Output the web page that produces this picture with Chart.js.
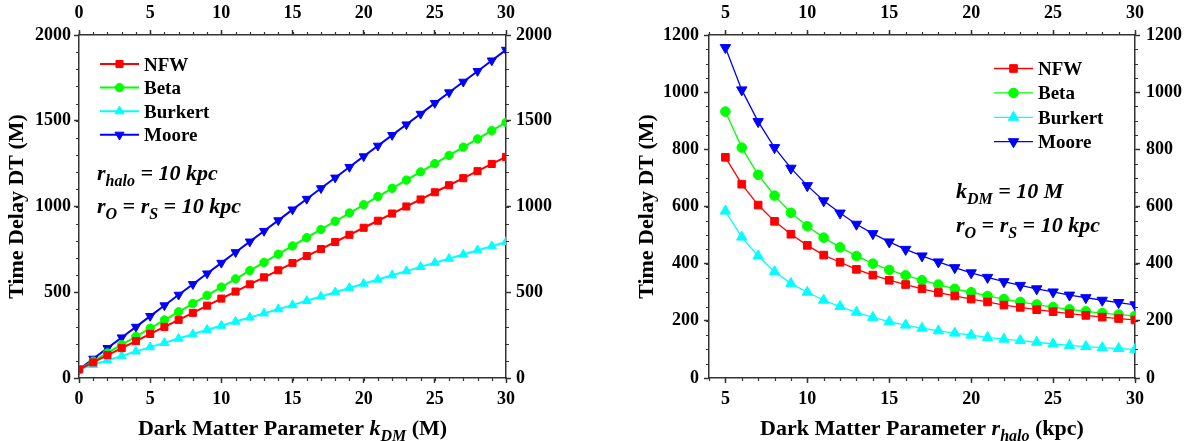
<!DOCTYPE html>
<html>
<head>
<meta charset="utf-8">
<script src="https://cdn.jsdelivr.net/npm/chart.js@4"></script>
<style>
    body { margin: 0; background: #fff; width: 1185px; height: 441px; overflow: hidden; position: relative; }
    .box { position: absolute; top: 0; height: 441px; }
    #box-left { left: 0; width: 600px; }
    #box-right { left: 630px; width: 555px; }
</style>
</head>
<body>
<div class="box" id="box-left"><canvas id="chart-left"></canvas></div>
<div class="box" id="box-right"><canvas id="chart-right"></canvas></div>
<script>
// left panel: DT against k_DM (r_halo = 10 kpc)
const kdm_values = [0, 1, 2, 3, 4, 5, 6, 7, 8, 9, 10, 11, 12, 13, 14, 15, 16, 17, 18, 19, 20, 21, 22, 23, 24, 25, 26, 27, 28, 29, 30];
const nfw_by_kdm = [50, 91, 133, 174, 215, 257, 298, 339, 380, 422, 463, 504, 546, 587, 628, 670, 711, 752, 793, 835, 876, 917, 959, 1000, 1041, 1083, 1124, 1165, 1206, 1248, 1289];
const beta_by_kdm = [50, 98, 146, 194, 242, 290, 338, 386, 434, 482, 530, 578, 626, 674, 722, 770, 818, 866, 914, 962, 1010, 1058, 1106, 1154, 1202, 1250, 1298, 1346, 1394, 1442, 1490];
const burkert_by_kdm = [50, 77, 103, 128, 155, 180, 205, 230, 256, 281, 305, 329, 353, 377, 401, 425, 450, 475, 500, 525, 550, 574, 599, 623, 648, 672, 696, 720, 745, 769, 793];
const moore_by_kdm = [50, 112, 174, 236, 298, 361, 423, 485, 547, 609, 671, 733, 795, 857, 919, 982, 1044, 1106, 1168, 1230, 1292, 1354, 1416, 1478, 1540, 1603, 1665, 1727, 1789, 1851, 1913];

// right panel: DT against r_halo (k_DM = 10 M)
const rhalo_values = [5, 6, 7, 8, 9, 10, 11, 12, 13, 14, 15, 16, 17, 18, 19, 20, 21, 22, 23, 24, 25, 26, 27, 28, 29, 30];
const nfw_by_rhalo = [772, 678, 605, 548, 503, 464, 430, 405, 380, 360, 342, 327, 312, 299, 287, 276, 266, 255, 247, 239, 232, 225, 219, 213, 208, 203];
const beta_by_rhalo = [932, 806, 711, 638, 578, 531, 491, 457, 427, 400, 378, 359, 342, 327, 312, 300, 287, 276, 266, 257, 248, 240, 233, 227, 222, 217];
const burkert_by_rhalo = [584, 493, 427, 372, 331, 300, 272, 250, 230, 212, 197, 185, 174, 165, 157, 150, 142, 136, 131, 125, 119, 114, 110, 106, 103, 100];
const moore_by_rhalo = [1156, 1008, 897, 806, 734, 673, 620, 577, 538, 505, 476, 450, 427, 406, 386, 368, 352, 337, 324, 312, 301, 290, 281, 272, 264, 256];

const series_names = ['NFW', 'Beta', 'Burkert', 'Moore'];

const kdm_ticks = [0, 5, 10, 15, 20, 25, 30];
const dt_ticks_left = [0, 500, 1000, 1500, 2000];
const rhalo_ticks = [5, 10, 15, 20, 25, 30];
const dt_ticks_right = [0, 200, 400, 600, 800, 1000, 1200];

const FAMILY = '"Liberation Serif", "Times New Roman", serif';
const AXIS_COLOR = '#333';

const series_styles = [
    {color: '#ff0000', point: 'rect', rotation: 0},
    {color: '#00ff00', point: 'circle', rotation: 0},
    {color: '#00ffff', point: 'triangle', rotation: 0},
    {color: '#0000ff', point: 'triangle', rotation: 180}
];

function make_datasets(xs, columns, line_width, radii) {
    return columns.map(function(col, i) {
        let st = series_styles[i];
        return {
            label: series_names[i],
            data: xs.map((x, j) => ({x: x, y: col[j]})),
            borderColor: st.color,
            backgroundColor: st.color,
            borderWidth: line_width,
            pointStyle: st.point,
            pointRotation: st.rotation,
            pointRadius: radii[i],
            pointBackgroundColor: st.color,
            pointBorderColor: st.color,
            pointBorderWidth: 1,
            tension: 0
        };
    });
}

function axis(position, min, max, tick_values, fit, padding, title) {
    let a = {
        type: 'linear',
        position: position,
        min: min,
        max: max,
        afterBuildTicks: function(s) { s.ticks = tick_values.map(v => ({value: v})); },
        afterFit: function(s) {
            if (position == 'left' || position == 'right') { s.width = fit; } else { s.height = fit; }
        },
        ticks: {
            autoSkip: false,
            maxRotation: 0,
            padding: padding,
            color: '#000',
            font: {family: FAMILY, size: 18, weight: 'bold'},
            callback: v => String(v)
        },
        grid: {drawOnChartArea: false, tickLength: 5, tickWidth: 1.5, tickColor: AXIS_COLOR},
        border: {display: true, color: AXIS_COLOR, width: 1.5}
    };
    if (title) {
        a.title = {display: true, text: title, color: '#000', padding: {top: 4, bottom: 0},
                   font: {family: FAMILY, size: 22, weight: 'bold'}};
    }
    return a;
}

function draw_minor_ticks(chart, minor) {
    const ctx = chart.ctx, a = chart.chartArea;
    const xs = chart.scales.x, ys = chart.scales.y;
    ctx.strokeStyle = AXIS_COLOR;
    ctx.lineWidth = 1.2;
    ctx.beginPath();
    for (let v = Math.ceil(xs.min / minor.x) * minor.x; v <= xs.max + 1e-9; v += minor.x) {
        let px = Math.round(xs.getPixelForValue(v)) + 0.5;
        ctx.moveTo(px, a.bottom); ctx.lineTo(px, a.bottom + minor.length);
        ctx.moveTo(px, a.top); ctx.lineTo(px, a.top - minor.length);
    }
    for (let v = Math.ceil(ys.min / minor.y) * minor.y; v <= ys.max + 1e-9; v += minor.y) {
        let py = Math.round(ys.getPixelForValue(v)) + 0.5;
        ctx.moveTo(a.left, py); ctx.lineTo(a.left - minor.length, py);
        ctx.moveTo(a.right, py); ctx.lineTo(a.right + minor.length, py);
    }
    ctx.stroke();
}

function draw_legend(chart, lg) {
    const ctx = chart.ctx;
    chart.data.datasets.forEach(function(ds, i) {
        let y = lg.y + i * lg.row;
        ctx.strokeStyle = ds.borderColor;
        ctx.lineWidth = ds.borderWidth;
        ctx.beginPath();
        ctx.moveTo(lg.x, y);
        ctx.lineTo(lg.x + lg.line, y);
        ctx.stroke();
        ctx.fillStyle = ds.pointBackgroundColor;
        ctx.strokeStyle = ds.pointBorderColor;
        ctx.lineWidth = ds.pointBorderWidth;
        Chart.helpers.drawPoint(ctx, {
            pointStyle: ds.pointStyle, radius: ds.pointRadius,
            rotation: ds.pointRotation, borderWidth: ds.pointBorderWidth
        }, lg.x + lg.line / 2, y);
        ctx.fillStyle = '#000';
        ctx.font = 'bold 19px ' + FAMILY;
        ctx.textAlign = 'left';
        ctx.textBaseline = 'alphabetic';
        ctx.fillText(ds.label, lg.x + lg.line + lg.gap, y + 6.5);
    });
}

function draw_runs(chart, item) {
    const ctx = chart.ctx, a = chart.chartArea;
    let w = 0;
    item.runs.forEach(function(r) { ctx.font = r.font; w += ctx.measureText(r.t).width; });
    let x = item.x == 'center' ? (a.left + a.right) / 2 - w / 2 : item.x;
    ctx.fillStyle = '#000';
    ctx.textAlign = 'left';
    ctx.textBaseline = 'alphabetic';
    item.runs.forEach(function(r) {
        ctx.font = r.font;
        ctx.fillText(r.t, x, item.y + (r.dy || 0));
        x += ctx.measureText(r.t).width;
    });
}

const extras_plugin = {
    id: 'extras',
    afterDraw: function(chart, args, opts) {
        chart.ctx.save();
        draw_minor_ticks(chart, opts.minor);
        draw_legend(chart, opts.legend);
        (opts.texts || []).forEach(t => draw_runs(chart, t));
        chart.ctx.restore();
    }
};

const B = 'bold 22px ' + FAMILY;
const BI = 'italic bold 22px ' + FAMILY;
const BI_SUB = 'italic bold 16px ' + FAMILY;

function init_chart(canvas_id, cfg) {
    return new Chart(document.getElementById(canvas_id), {
        type: 'line',
        data: {datasets: cfg.datasets},
        plugins: [extras_plugin],
        options: {
            responsive: true,
            maintainAspectRatio: false,
            animation: false,
            layout: {padding: 0},
            scales: cfg.scales,
            plugins: {
                legend: {display: false},
                tooltip: {enabled: false},
                extras: cfg.extras
            }
        }
    });
}

init_chart('chart-left', {
    datasets: make_datasets(kdm_values, [nfw_by_kdm, beta_by_kdm, burkert_by_kdm, moore_by_kdm], 2, [5, 4.2, 5.2, 5.2]),
    scales: {
        x: axis('bottom', 0, 30, kdm_ticks, 63, 6),
        x2: axis('top', 0, 30, kdm_ticks, 35, 6),
        y: axis('left', 0, 2000, dt_ticks_left, 79, 3, 'Time Delay DT (M)'),
        y2: axis('right', 0, 2000, dt_ticks_left, 94, 5)
    },
    extras: {
        minor: {x: 1, y: 100, length: 3},
        legend: {x: 100, y: 64, row: 23.6, line: 39, gap: 5},
        texts: [
            {x: 97, y: 180, runs: [{t: 'r', font: BI}, {t: 'halo', font: BI_SUB, dy: 6}, {t: ' = 10 kpc', font: BI}]},
            {x: 97, y: 213, runs: [{t: 'r', font: BI}, {t: 'O', font: BI_SUB, dy: 6}, {t: ' = r', font: BI},
                                   {t: 'S', font: BI_SUB, dy: 6}, {t: ' = 10 kpc', font: BI}]},
            {x: 'center', y: 435, runs: [{t: 'Dark Matter Parameter ', font: B}, {t: 'k', font: BI},
                                         {t: 'DM', font: BI_SUB, dy: 6}, {t: ' (M)', font: B}]}
        ]
    }
});

init_chart('chart-right', {
    datasets: make_datasets(rhalo_values, [nfw_by_rhalo, beta_by_rhalo, burkert_by_rhalo, moore_by_rhalo], 1.3, [5.4, 4.8, 6, 6]),
    scales: {
        x: axis('bottom', 4, 30, rhalo_ticks, 63, 6),
        x2: axis('top', 4, 30, rhalo_ticks, 35, 6),
        y: axis('left', 0, 1200, dt_ticks_right, 79, 5, 'Time Delay DT (M)'),
        y2: axis('right', 0, 1200, dt_ticks_right, 50, 6)
    },
    extras: {
        minor: {x: 1, y: 50, length: 3},
        legend: {x: 364, y: 68.5, row: 24.4, line: 39, gap: 5},
        texts: [
            {x: 326, y: 198, runs: [{t: 'k', font: BI}, {t: 'DM', font: BI_SUB, dy: 6}, {t: ' = 10 M', font: BI}]},
            {x: 326, y: 232, runs: [{t: 'r', font: BI}, {t: 'O', font: BI_SUB, dy: 6}, {t: ' = r', font: BI},
                                    {t: 'S', font: BI_SUB, dy: 6}, {t: ' = 10 kpc', font: BI}]},
            {x: 'center', y: 435, runs: [{t: 'Dark Matter Parameter ', font: B}, {t: 'r', font: BI},
                                         {t: 'halo', font: BI_SUB, dy: 6}, {t: ' (kpc)', font: B}]}
        ]
    }
});
</script>
</body>
</html>
